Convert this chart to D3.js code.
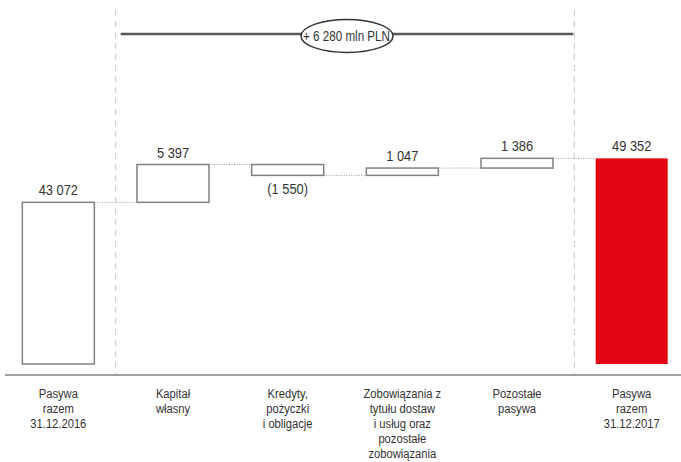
<!DOCTYPE html>
<html>
<head>
<meta charset="utf-8">
<script src="https://cdn.jsdelivr.net/npm/d3@7"></script>
<style>
body { margin: 0; background: #fff; }
text { font-family: 'Liberation Sans', Arial, sans-serif; fill: #333; }
</style>
</head>
<body>
<svg width="681" height="462"></svg>
<script>
var categories = ["p2016", "kapital", "kredyty", "zobowiazania", "pozostale", "p2017"];
var labelLines = [
  ["Pasywa", "razem", "31.12.2016"],
  ["Kapitał", "własny"],
  ["Kredyty,", "pożyczki", "i obligacje"],
  ["Zobowiązania z", "tytułu dostaw", "i usług oraz", "pozostałe", "zobowiązania"],
  ["Pozostałe", "pasywa"],
  ["Pasywa", "razem", "31.12.2017"]
];
var values = [43072, 5397, -1550, 1047, 1386, 49352];
var isTotal = [true, false, false, false, false, true];
var valueLabels = ["43 072", "5 397", "(1 550)", "1 047", "1 386", "49 352"];
var changeLabel = "+ 6 280 mln PLN";

var svg = d3.select("svg");
var narrow = " scale(0.83,1)"; // no Arial Narrow here, squeeze Liberation Sans

// waterfall start / end
var data = [];
var run = 0;
values.forEach(function(v, i) {
  var d = {cat: categories[i], lines: labelLines[i], label: valueLabels[i], total: isTotal[i], val: v};
  if (isTotal[i]) { d.start = 20000; d.end = v; run = v; }
  else { d.start = run; d.end = run + v; run = run + v; }
  data.push(d);
});

var x = d3.scaleBand().domain(categories).range([1, 689]).paddingInner(0.372).paddingOuter(0.186);
var y = d3.scaleLinear().domain([20000, 50000]).range([364, 153.8]);

var gap = (x.step() - x.bandwidth()) / 2;
var div1 = x(categories[1]) - gap;
var div2 = x(categories[5]) - gap;

// dashed separators
[div1, div2].forEach(function(xx) {
  svg.append("line")
    .attr("x1", xx).attr("x2", xx)
    .attr("y1", 10).attr("y2", 375)
    .attr("stroke", "#c8c8c8")
    .attr("stroke-width", 1)
    .attr("stroke-dasharray", "6,5");
});

// baseline
svg.append("line")
  .attr("x1", 5).attr("x2", 681)
  .attr("y1", 375).attr("y2", 375)
  .attr("stroke", "#808080")
  .attr("stroke-width", 1.5);

// connectors
for (var i = 0; i < data.length - 1; i++) {
  svg.append("line")
    .attr("x1", x(data[i].cat) + x.bandwidth())
    .attr("x2", x(data[i + 1].cat))
    .attr("y1", y(data[i].end)).attr("y2", y(data[i].end))
    .attr("stroke", "#999")
    .attr("stroke-width", 1)
    .attr("stroke-dasharray", "1,1.5");
}

// bars
svg.selectAll(".bar")
  .data(data)
  .enter()
  .append("rect")
  .attr("class", "bar")
  .attr("x", (d) => x(d.cat))
  .attr("y", (d) => y(Math.max(d.start, d.end)))
  .attr("width", x.bandwidth())
  .attr("height", (d) => Math.abs(y(d.start) - y(d.end)))
  .attr("fill", (d, i) => i == data.length - 1 ? "#e30613" : "#fff")
  .attr("stroke", (d, i) => i == data.length - 1 ? "none" : "#808080")
  .attr("stroke-width", 1.5);

// value labels
svg.selectAll(".val")
  .data(data)
  .enter()
  .append("text")
  .attr("class", "val")
  .attr("transform", function(d) {
    var ty = d.val < 0 ? y(d.end) + 19 : y(Math.max(d.start, d.end)) - 7;
    return "translate(" + (x(d.cat) + x.bandwidth() / 2) + "," + ty + ")" + narrow;
  })
  .attr("text-anchor", "middle")
  .style("font-size", "15.5px")
  .text((d) => d.label);

// category labels
var cat = svg.selectAll(".cat")
  .data(data)
  .enter()
  .append("text")
  .attr("class", "cat")
  .attr("transform", (d) => "translate(" + (x(d.cat) + x.bandwidth() / 2) + ",398)" + narrow)
  .attr("text-anchor", "middle")
  .style("font-size", "13.5px");
cat.selectAll("tspan")
  .data((d) => d.lines)
  .enter()
  .append("tspan")
  .attr("x", 0)
  .attr("y", (t, j) => j * 15)
  .text((t) => t);

// change bracket
svg.append("line")
  .attr("x1", div1 + 5).attr("x2", div2 - 1)
  .attr("y1", 34).attr("y2", 34)
  .attr("stroke", "#595959")
  .attr("stroke-width", 2.5);
svg.append("ellipse")
  .attr("cx", 347).attr("cy", 36)
  .attr("rx", 46).attr("ry", 16.5)
  .attr("fill", "#fff")
  .attr("stroke", "#333")
  .attr("stroke-width", 1.5);
svg.append("text")
  .attr("transform", "translate(346.5,40.5)" + narrow)
  .attr("text-anchor", "middle")
  .style("font-size", "14px")
  .text(changeLabel);
</script>
</body>
</html>
